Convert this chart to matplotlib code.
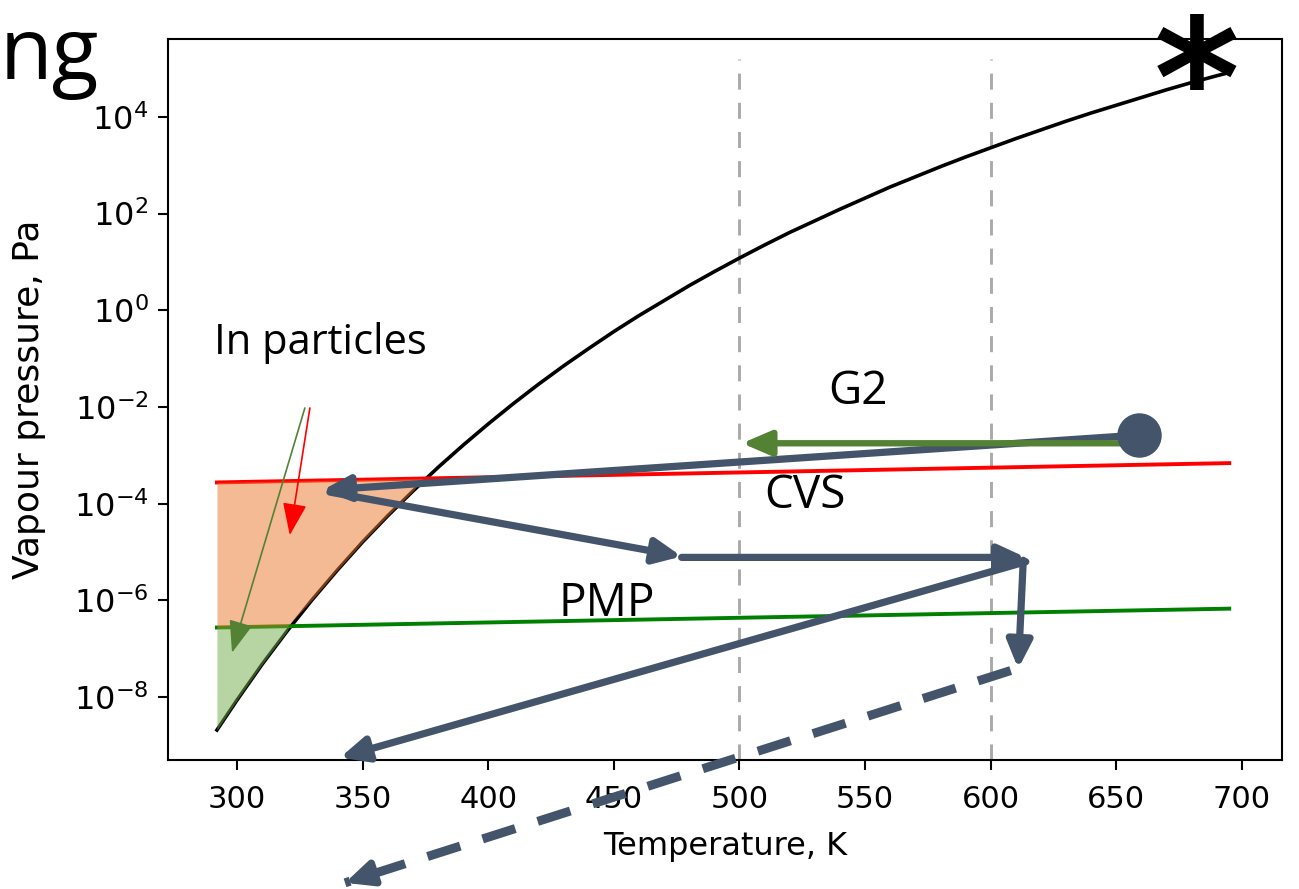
import numpy as np
import matplotlib
matplotlib.use("Agg")
import matplotlib.pyplot as plt

# saturation vapour pressure curve (log10 Pa)
T_curve = [292, 300, 310, 320, 330, 340, 350, 360, 370, 380, 390, 400,
           410, 420, 430, 440, 450, 460, 470, 480, 490, 500, 510, 520,
           530, 540, 550, 560, 570, 580, 590, 600, 610, 620, 630, 640,
           650, 660, 670, 680, 690, 693]
logP_curve = [-8.68, -8.06, -7.32, -6.63, -5.98, -5.37, -4.79, -4.25, -3.74,
              -3.25, -2.79, -2.35, -1.93, -1.53, -1.15, -0.79, -0.44, -0.11,
              0.20, 0.51, 0.80, 1.08, 1.35, 1.61, 1.85, 2.09, 2.32, 2.55,
              2.76, 2.97, 3.17, 3.36, 3.55, 3.73, 3.91, 4.08, 4.24, 4.40,
              4.56, 4.71, 4.85, 4.89]

# CVS (red) and PMP (green) levels
T_lim = [292, 695]
logP_cvs = [-3.56, -3.16]
logP_pmp = [-6.56, -6.17]

# vertical reference temperatures
T_marks = [500, 600]
logP_marks_top = 5.2

# path arrows (T, log10 P): start -> end
path_arrows = [
    ((659, -2.58), (334, -3.72)),
    ((337, -3.76), (477, -5.09)),
    ((477, -5.11), (614, -5.11)),
    ((613, -5.17), (611, -7.41)),
    ((614, -5.20), (341, -9.25)),
]
dashed_arrow = ((608, -7.45), (343, -11.84))
g2_arrow = ((652, -2.75), (501, -2.75))
dot = (659, -2.58)
red_thin = ((329, -2.02), (321, -4.65))
green_thin = ((327, -2.02), (298, -7.08))

navy = '#44546a'

T = np.array(T_curve, dtype=float)
P = 10.0 ** np.array(logP_curve)
cvs_at = 10.0 ** np.interp(T, T_lim, logP_cvs)
pmp_at = 10.0 ** np.interp(T, T_lim, logP_pmp)

fig = plt.figure(figsize=(12.99, 8.89), dpi=100)
ax = fig.add_axes([0.1293, 0.1451, 0.8576, 0.8110])

ax.plot(T, P, color='black', lw=2.6, zorder=2)
ax.plot(T_lim, 10.0 ** np.array(logP_cvs), color='red', lw=2.8, zorder=2)
ax.plot(T_lim, 10.0 ** np.array(logP_pmp), color='green', lw=2.8, zorder=2)

lower = np.maximum(P, pmp_at)
ax.fill_between(T, lower, cvs_at, where=P < cvs_at, interpolate=True,
                color='#e8762a', alpha=0.5, lw=0, zorder=3)
ax.fill_between(T, P, pmp_at, where=P < pmp_at, interpolate=True,
                color='#6fad47', alpha=0.5, lw=0, zorder=3)

ax.vlines(T_marks, 10 ** -9.3, 10 ** logP_marks_top, colors='#aaaaaa',
          lw=2.1, linestyles=(0, (5.5, 4.5)), zorder=1)

ax.set_yscale('log')
ax.set_xlim(272.5, 716)
ax.set_ylim(10 ** -9.3, 10 ** 5.61)
ax.set_xticks([300, 350, 400, 450, 500, 550, 600, 650, 700])
ax.set_yticks([1e-8, 1e-6, 1e-4, 1e-2, 1e0, 1e2, 1e4])
ax.minorticks_off()
ax.tick_params(length=7, width=1.5)
ax.tick_params(axis='x', labelsize=22, pad=11)
ax.tick_params(axis='y', labelsize=23, pad=7)
for s in ax.spines.values():
    s.set_linewidth(1.5)
ax.set_xlabel('Temperature, K', fontsize=23, labelpad=12)
ax.set_ylabel('Vapour pressure, Pa', fontsize=26, labelpad=20)


def arrow(start, end, color, lw, head, ls='-'):
    ax.annotate('', xy=(end[0], 10 ** end[1]), xytext=(start[0], 10 ** start[1]),
                xycoords='data', annotation_clip=False,
                arrowprops=dict(arrowstyle=head, color=color, lw=lw, ls=ls,
                                shrinkA=0, shrinkB=0, mutation_scale=25),
                zorder=5)


thick_head = '-|>,head_length=0.65,head_width=0.3'
for a, b in path_arrows:
    arrow(a, b, navy, 5.2, thick_head)

# dashed arrow: dashed shaft + solid head
(t0, l0), (t1, l1) = dashed_arrow
ax.plot([t0, t1], [10 ** l0, 10 ** l1], color=navy, lw=6.5,
        ls=(0, (3.8, 2.6)), clip_on=False, zorder=5, solid_capstyle='butt')
ax.annotate('', xy=(t1, 10 ** l1), xytext=(15, 5), textcoords='offset points',
            annotation_clip=False,
            arrowprops=dict(arrowstyle=thick_head, color=navy, lw=5.2,
                            shrinkA=0, shrinkB=0, mutation_scale=25), zorder=5)

arrow(g2_arrow[0], g2_arrow[1], '#548235', 4.6, '-|>,head_length=0.7,head_width=0.3')
ax.plot([dot[0]], [10 ** dot[1]], 'o', color=navy, ms=31, zorder=6)

arrow(red_thin[0], red_thin[1], 'red', 1.2, '-|>,head_length=0.8,head_width=0.3')
arrow(green_thin[0], green_thin[1], '#548235', 1.2, '-|>,head_length=0.8,head_width=0.3')

tf = dict(family='Open Sans', color='black')
fig.text(214 / 1299, 1 - 343 / 889, 'In particles',
         fontsize=30, va='center', ha='left', **tf)
fig.text(858 / 1299, 1 - 392 / 889, 'G2', fontsize=33, va='center', ha='center', **tf)
fig.text(805 / 1299, 1 - 496 / 889, 'CVS', fontsize=33, va='center', ha='center', **tf)
fig.text(607 / 1299, 1 - 604 / 889, 'PMP', fontsize=33, va='center', ha='center', **tf)
fig.text(0.0, 1 - 57 / 889, 'ng', fontsize=62, va='center', ha='left', **tf)
fig.text(1197 / 1299, 1 - 90 / 889, '*', fontsize=118, fontweight='bold',
         va='center', ha='center', family='DejaVu Sans')

fig.savefig('out.png', dpi=100)
